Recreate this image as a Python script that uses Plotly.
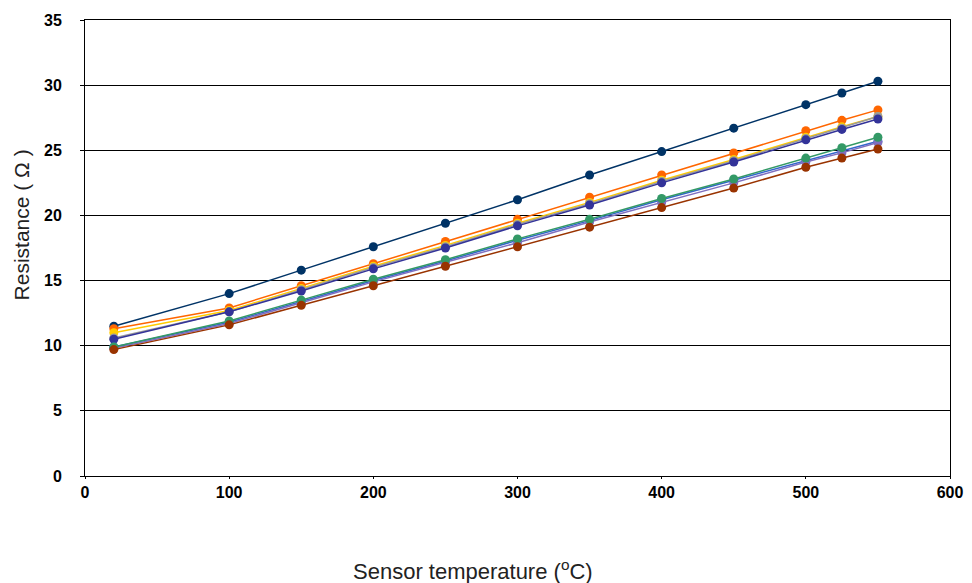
import plotly.graph_objects as go

temps = [20, 100, 150, 200, 250, 300, 350, 400, 450, 500, 525, 550]

navy   = [11.5, 14.0, 15.8, 17.6, 19.4, 21.2, 23.1, 24.9, 26.7, 28.5, 29.4, 30.3]
orange = [11.3, 12.9, 14.6, 16.3, 18.0, 19.7, 21.4, 23.1, 24.8, 26.5, 27.3, 28.1]
yellow = [11.0, 12.7, 14.4, 16.1, 17.7, 19.4, 21.0, 22.7, 24.3, 26.0, 26.8, 27.6]
gray   = [10.6, 12.6, 14.3, 16.0, 17.6, 19.3, 20.9, 22.6, 24.2, 25.9, 26.7, 27.6]
indigo = [10.5, 12.6, 14.2, 15.9, 17.5, 19.2, 20.8, 22.5, 24.1, 25.8, 26.6, 27.4]
blue   = [9.9, 11.8, 13.4, 15.0, 16.5, 18.1, 19.6, 21.2, 22.7, 24.2, 25.0, 25.7]
purple = [9.8, 11.7, 13.3, 14.9, 16.4, 17.9, 19.5, 21.0, 22.5, 24.1, 24.8, 25.6]
green  = [9.9, 11.9, 13.5, 15.1, 16.6, 18.2, 19.7, 21.3, 22.8, 24.4, 25.2, 26.0]
brown  = [9.7, 11.6, 13.1, 14.6, 16.1, 17.6, 19.1, 20.6, 22.1, 23.7, 24.4, 25.1]

x_title = "Sensor temperature (<sup>o</sup>C)"
y_title = "Resistance ( Ω )"

series = [
    ("S1", navy, "#003366"),
    ("S2", orange, "#FF6600"),
    ("S3", yellow, "#FFCC00"),
    ("S4", gray, "#999999"),
    ("S5", indigo, "#333399"),
    ("S6", blue, "#3366CC"),
    ("S7", purple, "#7F6FBF"),
    ("S8", green, "#339966"),
    ("S9", brown, "#993300"),
]

fig = go.Figure()
for name, vals, col in series:
    fig.add_trace(go.Scatter(
        x=temps, y=vals, name=name, mode="lines+markers",
        line=dict(color=col, width=1.5),
        marker=dict(color=col, size=9),
    ))

tickfont = dict(size=16, family="Liberation Sans, Arial, sans-serif", weight="bold", color="black")
xtitlefont = dict(size=22, family="Liberation Sans, Arial, sans-serif", color="#222")
ytitlefont = dict(size=21, family="Liberation Sans, Arial, sans-serif", color="#222")

fig.update_layout(
    width=964, height=575,
    margin=dict(l=77, r=22, t=12, b=107),
    paper_bgcolor="white", plot_bgcolor="white",
    showlegend=False,
    font=dict(family="Liberation Sans, Arial, sans-serif", color="black"),
    annotations=[
        dict(text=x_title, xref="paper", yref="paper", x=0.4486, y=-0.206,
             xanchor="center", yanchor="middle", showarrow=False, font=xtitlefont),
        dict(text=y_title, xref="paper", yref="paper", x=-0.0735, y=0.5504,
             xanchor="center", yanchor="middle", textangle=-90, showarrow=False, font=ytitlefont),
    ],
)
fig.update_xaxes(
    range=[0, 600], dtick=100, tick0=0,
    showgrid=False, zeroline=False, automargin=False,
    showline=True, linecolor="black", linewidth=1, mirror=True,
    ticks="outside", ticklen=2, tickcolor="black",
    tickfont=tickfont,
)
fig.update_yaxes(
    range=[0, 35], dtick=5, tick0=0,
    showgrid=True, gridcolor="black", gridwidth=1, zeroline=False, automargin=False,
    showline=True, linecolor="black", linewidth=1, mirror=True,
    ticks="outside", ticklen=4, tickcolor="black", ticklabelstandoff=15,
    tickfont=tickfont,
)

fig.write_html("out.html")
